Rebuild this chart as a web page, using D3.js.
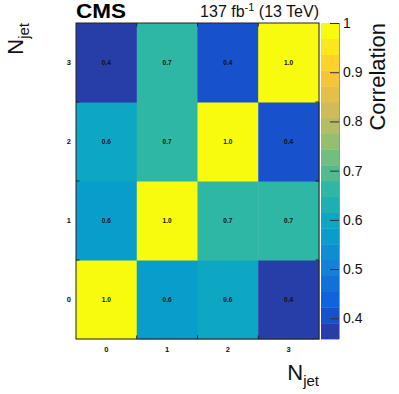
<!DOCTYPE html>
<html><head><meta charset="utf-8">
<script src="https://cdn.jsdelivr.net/npm/d3@7"></script>
<style>body{margin:0;background:#fff}svg{display:block}text{font-family:"Liberation Sans",Arial,Helvetica,sans-serif}</style>
</head><body><svg id="c" width="399" height="394"></svg>
<script>
const xCats = ["0","1","2","3"];
const yCats = ["0","1","2","3"];
// corr[y][x]
const corr = [
  [1.00, 0.57, 0.60, 0.358],
  [0.57, 1.00, 0.66, 0.66],
  [0.60, 0.66, 1.00, 0.40],
  [0.358, 0.66, 0.40, 1.00]
];
const zTicks = [0.4,0.5,0.6,0.7,0.8,0.9,1.0];
const zMin = 0.358, zMax = 1.0, nContours = 20;

// ROOT kBird palette stops
const birdStops=[0,0.125,0.25,0.375,0.5,0.625,0.75,0.875,1];
const birdR=[0.2082,0.0592,0.0780,0.0232,0.1802,0.5301,0.8186,0.9956,0.9764];
const birdG=[0.1664,0.3599,0.5041,0.6419,0.7178,0.7492,0.7328,0.7862,0.9832];
const birdB=[0.5293,0.8684,0.8385,0.7914,0.6425,0.4662,0.3499,0.1968,0.0539];
const pal = d3.scaleLinear().domain(birdStops)
  .range(birdStops.map((s,i)=>d3.rgb(birdR[i]*255,birdG[i]*255,birdB[i]*255)))
  .interpolate(d3.interpolateRgb);
function bandColor(i){const t=Math.floor((i+0.99)*255/nContours)/254;return pal(Math.min(1,t));}
const bandW=(zMax-zMin)/nContours;
function colorOf(v){let i=Math.floor((v-zMin)/bandW);i=Math.max(0,Math.min(nContours-1,i));return bandColor(i);}

const svg=d3.select("#c");
const L=76,R=319,T=23,B=339;
const x=d3.scaleBand().domain(xCats).range([L,R]);
const y=d3.scaleBand().domain(yCats).range([B,T]);

const cells=[];
yCats.forEach((yc,yi)=>xCats.forEach((xc,xi)=>cells.push({x:xc,y:yc,v:corr[yi][xi]})));
svg.append("g").selectAll("rect").data(cells).join("rect")
  .attr("x",d=>x(d.x)).attr("y",d=>y(d.y)).attr("width",x.bandwidth()+0.5).attr("height",y.bandwidth()+0.5)
  .attr("fill",d=>colorOf(d.v));
svg.append("g").selectAll("text").data(cells).join("text")
  .attr("x",d=>x(d.x)+x.bandwidth()/2).attr("y",d=>y(d.y)+y.bandwidth()/2+2.3)
  .attr("text-anchor","middle").attr("font-size",6.5).attr("font-weight","bold").attr("fill","#111")
  .text(d=>d3.format(".1f")(d.v));

// frame
svg.append("rect").attr("x",L).attr("y",T).attr("width",R-L).attr("height",B-T)
  .attr("fill","none").attr("stroke","#222").attr("stroke-width",1);
// ticks at bin boundaries
const xb=xCats.slice(1).map(c=>x(c)), yb=yCats.slice(1).map(c=>y(c)+y.bandwidth());
const tk=svg.append("g").attr("stroke","#222").attr("stroke-width",1);
xb.forEach(v=>{tk.append("line").attr("x1",v).attr("x2",v).attr("y1",B).attr("y2",B-3.5);
  tk.append("line").attr("x1",v).attr("x2",v).attr("y1",T).attr("y2",T+3.5);});
yb.forEach(v=>{tk.append("line").attr("y1",v).attr("y2",v).attr("x1",L).attr("x2",L+3.5);
  tk.append("line").attr("y1",v).attr("y2",v).attr("x1",R).attr("x2",R-3.5);});
// tick labels
svg.append("g").selectAll("text").data(xCats).join("text")
  .attr("x",d=>x(d)+x.bandwidth()/2).attr("y",351.5).attr("text-anchor","middle")
  .attr("font-size",7.5).attr("font-weight","bold").attr("fill","#111").text(d=>d);
svg.append("g").selectAll("text").data(yCats).join("text")
  .attr("x",71).attr("y",d=>y(d)+y.bandwidth()/2+2.7).attr("text-anchor","end")
  .attr("font-size",7.5).attr("font-weight","bold").attr("fill","#111").text(d=>d);

// colorbar
const CL=321,CR=339;
const z=d3.scaleLinear().domain([zMin,zMax]).range([B,T]);
const bands=d3.range(nContours);
svg.append("g").selectAll("rect").data(bands).join("rect")
  .attr("x",CL).attr("width",CR-CL)
  .attr("y",i=>z(zMin+(i+1)*bandW)).attr("height",i=>z(zMin+i*bandW)-z(zMin+(i+1)*bandW)+0.4)
  .attr("fill",i=>bandColor(i));
svg.append("line").attr("x1",CR+0.5).attr("x2",CR+0.5).attr("y1",T).attr("y2",B).attr("stroke","#999").attr("stroke-width",1);
const zAxis=d3.axisRight(z).tickValues(zTicks).tickSize(0).tickPadding(4)
  .tickFormat(d=>d===1?"1":d.toFixed(1));
const za=svg.append("g").attr("transform",`translate(${CR},0)`).call(zAxis);
za.select(".domain").remove();
za.selectAll("text").attr("font-size",14).attr("fill","#111").attr("font-family","Liberation Sans,Arial,sans-serif");
za.selectAll(".tick").append("line").attr("x1",-9).attr("x2",0).attr("stroke","#333").attr("stroke-width",1);

// titles
svg.append("text").attr("x",76).attr("y",17.5).attr("font-size",20).attr("font-weight","bold")
  .attr("textLength",50).attr("lengthAdjust","spacingAndGlyphs")
  .attr("fill","#000").text("CMS");
const lumi=svg.append("text").attr("x",319).attr("y",17).attr("text-anchor","end").attr("font-size",16).attr("fill","#111");
lumi.append("tspan").text("137 fb");
lumi.append("tspan").attr("font-size",11).attr("dy",-6).text("-1");
lumi.append("tspan").attr("dy",6).text(" (13 TeV)");

const xt=svg.append("text").attr("x",319).attr("y",380).attr("text-anchor","end").attr("font-size",22).attr("fill","#111");
xt.append("tspan").text("N");
xt.append("tspan").attr("font-size",15).attr("dy",6).text("jet");

const yt=svg.append("text").attr("transform","translate(22.5,23) rotate(-90)").attr("text-anchor","end").attr("font-size",22).attr("fill","#111");
yt.append("tspan").text("N");
yt.append("tspan").attr("font-size",15).attr("dy",6).text("jet");

svg.append("text").attr("transform","translate(385,23) rotate(-90)").attr("text-anchor","end")
  .attr("font-size",22).attr("fill","#111").text("Correlation");
</script></body></html>
